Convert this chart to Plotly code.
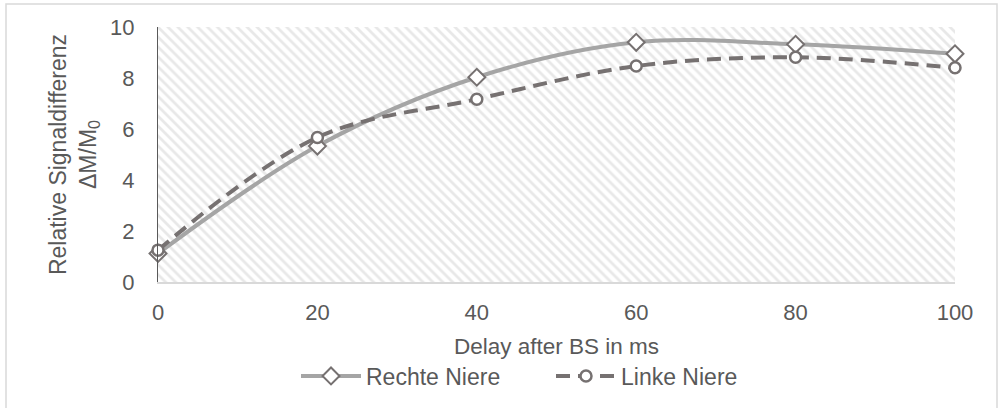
import plotly.graph_objects as go

delay = [0, 20, 40, 60, 80, 100]
rechte = [1.12, 5.33, 8.03, 9.40, 9.32, 8.95]
linke = [1.25, 5.67, 7.17, 8.47, 8.81, 8.40]
x_ticks = [0, 20, 40, 60, 80, 100]
y_ticks = [0, 2, 4, 6, 8, 10]

FONT = "Liberation Sans"
TXT = "#595959"

# plot-area geometry in pixels
L, R, T, B = 158, 955, 27, 282
W, H = R - L, B - T

fig = go.Figure()

# hatched plot-area background
fig.add_trace(go.Scatter(
    x=[x_ticks[0], x_ticks[-1], x_ticks[-1], x_ticks[0], x_ticks[0]],
    y=[y_ticks[0], y_ticks[0], y_ticks[-1], y_ticks[-1], y_ticks[0]],
    fill="toself", mode="none", fillcolor="rgba(0,0,0,0)",
    fillpattern=dict(shape="\\", fgcolor="#D2D2D2", bgcolor="white", size=7, solidity=0.4),
    showlegend=False, hoverinfo="skip"))

fig.add_trace(go.Scatter(
    x=delay, y=rechte, name="Rechte Niere", mode="lines+markers",
    line=dict(color="#A5A5A5", width=4, shape="spline", smoothing=1),
    marker=dict(symbol="diamond", size=13, color="white",
                line=dict(color="#767171", width=2)),
    cliponaxis=False))

fig.add_trace(go.Scatter(
    x=delay, y=linke, name="Linke Niere", mode="lines+markers",
    line=dict(color="#767171", width=4, dash="14px,8px", shape="spline", smoothing=1),
    marker=dict(symbol="circle", size=11, color="white",
                line=dict(color="#767171", width=2.5)),
    cliponaxis=False))

fig.update_layout(
    width=1001, height=408,
    margin=dict(l=L, r=1001 - R, t=T, b=408 - B, autoexpand=False),
    paper_bgcolor="white", plot_bgcolor="white",
    font=dict(family=FONT, size=22, color=TXT),
    xaxis=dict(range=[0, 100], tickvals=x_ticks, showgrid=True, gridcolor="#D9D9D9",
               gridwidth=1, zeroline=False, showline=True, linecolor="#D9D9D9", linewidth=2,
               ticks="", ticklabelstandoff=10,
               title=dict(text="Delay after BS in ms", standoff=14, font=dict(size=22.5)),
               tickfont=dict(size=22, color=TXT), automargin=False),
    yaxis=dict(range=[0, 10], tickvals=y_ticks, showgrid=True, gridcolor="#D9D9D9",
               gridwidth=1, zeroline=False, showline=True, linecolor="#595959", linewidth=1,
               ticks="", ticklabelstandoff=18,
               title=dict(text="Relative Signaldifferenz<br>ΔM/M<sub>0</sub>", standoff=7,
                          font=dict(size=23)),
               tickfont=dict(size=22, color=TXT), automargin=False),
    legend=dict(orientation="h", x=(551 - L) / W, xanchor="center", y=-(376 - B) / H,
                yanchor="middle", font=dict(size=23, color=TXT), itemwidth=60,
                entrywidth=180, entrywidthmode="pixels"),
    shapes=[dict(type="rect", xref="paper", yref="paper",
                 x0=(6 - L) / W, x1=(997 - L) / W,
                 y0=(B - 412) / H, y1=(B - 4) / H,
                 line=dict(color="#D9D9D9", width=1.5))],
)

fig.write_html("out.html")
